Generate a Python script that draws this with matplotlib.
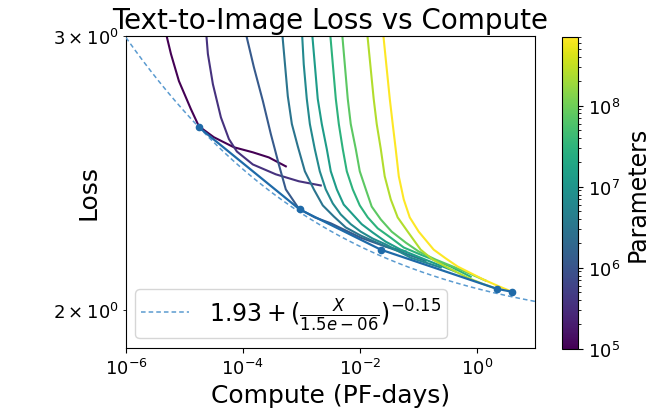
import numpy as np
import matplotlib
matplotlib.use('Agg')
import matplotlib.pyplot as plt
from matplotlib.colors import LogNorm
from matplotlib.cm import ScalarMappable

# model sizes (colour) for each learning curve
params = [1.0e5, 3.5e5, 1.2e6, 3.0e6, 6.5e6, 1.3e7, 3.0e7, 7.5e7, 2.5e8, 7.0e8]

# learning curves: compute (PF-days) and loss
c1_x = [4.65e-6, 5.88e-6, 8.05e-6, 1.29e-5, 1.77e-5, 3.19e-5, 7.01e-5, 1.48e-4, 2.78e-4, 5.43e-4]
c1_loss = [3.03, 2.921, 2.806, 2.692, 2.624, 2.582, 2.544, 2.525, 2.506, 2.473]
c2_x = [2.33e-5, 2.52e-5, 3.07e-5, 4.21e-5, 5.77e-5, 7.89e-5, 1.48e-4, 3.66e-4, 9.06e-4, 2.15e-3]
c2_loss = [3.03, 2.921, 2.793, 2.659, 2.575, 2.528, 2.480, 2.444, 2.419, 2.404]
c3_x = [1.08e-4, 1.54e-4, 2.20e-4, 3.01e-4, 3.52e-4, 4.12e-4, 5.43e-4, 9.06e-4, 1.70e-3,
        3.19e-3, 1.04e-2, 2.78e-2, 6.11e-2]
c3_loss = [3.03, 2.865, 2.724, 2.594, 2.537, 2.480, 2.390, 2.323, 2.293,
           2.273, 2.225, 2.196, 2.180]
c4_x = [4.65e-4, 5.87e-4, 6.89e-4, 8.71e-4, 1.15e-3, 1.64e-3, 2.33e-3, 3.60e-3, 5.77e-3,
        1.04e-2, 2.78e-2, 0.134]
c4_loss = [3.03, 2.744, 2.633, 2.547, 2.455, 2.390, 2.334, 2.296, 2.259,
           2.232, 2.196, 2.150]
c5_x = [1.02e-3, 1.10e-3, 1.24e-3, 1.40e-3, 1.70e-3, 2.07e-3, 2.62e-3, 3.45e-3, 4.73e-3,
        7.01e-3, 1.04e-2, 1.67e-2, 2.78e-2, 7.45e-2, 0.243]
c5_loss = [3.03, 2.877, 2.733, 2.633, 2.537, 2.455, 2.390, 2.341, 2.303,
           2.270, 2.245, 2.222, 2.203, 2.160, 2.129]
c6_x = [1.51e-3, 1.91e-3, 2.24e-3, 2.73e-3, 3.19e-3, 4.05e-3, 5.31e-3, 7.59e-3, 1.08e-2,
        1.67e-2, 2.78e-2, 5.02e-2, 0.164, 0.438]
c6_loss = [3.03, 2.733, 2.633, 2.537, 2.455, 2.390, 2.337, 2.303, 2.270,
           2.242, 2.212, 2.186, 2.147, 2.116]
c7_x = [3.07e-3, 3.89e-3, 4.38e-3, 5.12e-3, 6.00e-3, 7.59e-3, 1.00e-2, 1.37e-2, 2.03e-2,
        3.39e-2, 5.65e-2, 0.110, 0.360, 0.789]
c7_loss = [3.03, 2.733, 2.633, 2.537, 2.455, 2.390, 2.334, 2.293, 2.256,
           2.225, 2.193, 2.170, 2.132, 2.100]
c8_x = [4.92e-3, 6.23e-3, 7.01e-3, 8.55e-3, 1.00e-2, 1.27e-2, 1.60e-2, 2.29e-2, 3.52e-2,
        6.11e-2, 0.102, 0.199, 0.533, 1.43]
c8_loss = [3.03, 2.733, 2.633, 2.537, 2.455, 2.390, 2.330, 2.286, 2.245,
           2.209, 2.180, 2.154, 2.122, 2.088]
c9_x = [1.32e-2, 1.73e-2, 1.95e-2, 2.29e-2, 2.67e-2, 3.39e-2, 4.45e-2, 6.62e-2, 0.110,
        0.177, 0.295, 0.701, 1.27, 2.2]
c9_loss = [3.03, 2.733, 2.633, 2.537, 2.437, 2.355, 2.293, 2.245, 2.186,
           2.154, 2.132, 2.097, 2.078, 2.063]
c10_x = [2.47e-2, 3.26e-2, 3.66e-2, 4.12e-2, 4.65e-2, 5.65e-2, 7.16e-2, 0.102, 0.184,
         0.295, 0.473, 1.32, 2.29, 4.0]
c10_loss = [3.03, 2.733, 2.633, 2.537, 2.437, 2.355, 2.293, 2.245, 2.186,
            2.158, 2.132, 2.091, 2.072, 2.054]

curves_x = [c1_x, c2_x, c3_x, c4_x, c5_x, c6_x, c7_x, c8_x, c9_x, c10_x]
curves_loss = [c1_loss, c2_loss, c3_loss, c4_loss, c5_loss, c6_loss, c7_loss, c8_loss, c9_loss, c10_loss]

# compute frontier points
front_x = [1.77e-5, 9.4e-4, 2.29e-2, 2.2, 4.0]
front_loss = [2.62, 2.32, 2.186, 2.063, 2.054]

# power law fit  L = a + (C / c0)^alpha
fit_a = 1.93
fit_c0 = 1.5e-6
fit_alpha = -0.15

fig = plt.figure(figsize=(6.51, 4.10), dpi=100)
ax = fig.add_axes([0.1935, 0.149, 0.6285, 0.761])

norm = LogNorm(vmin=1e5, vmax=7e8)
cmap = plt.get_cmap('viridis')

for n, xs, ls in zip(params, curves_x, curves_loss):
    ax.plot(xs, ls, color=cmap(norm(n)), lw=1.5)

ax.plot(front_x, front_loss, 'o-', color='#1f6aa8', lw=1.6, ms=4.5, zorder=5)

cc = np.logspace(-6, 1, 300)
ax.plot(cc, fit_a + (cc / fit_c0) ** fit_alpha, color='#5b9bd0', lw=1.1,
        ls=(0, (3, 2)), label=r'$1.93 + (\frac{X}{1.5e-06})^{-0.15}$', zorder=4)

ax.set_xscale('log')
ax.set_yscale('log')
ax.set_xlim(1e-6, 10)
ax.set_ylim(1.89, 3.0)
ax.set_xticks([1e-6, 1e-4, 1e-2, 1e0])
ax.xaxis.set_minor_locator(matplotlib.ticker.NullLocator())
ax.tick_params(labelsize=13)
ax.tick_params(axis='y', which='minor', labelsize=13)

ax.set_xlabel('Compute (PF-days)', fontsize=18)
ax.set_ylabel('Loss', fontsize=18)
ax.yaxis.set_label_coords(-0.063, 0.5)
ax.set_title('Text-to-Image Loss vs Compute', fontsize=20)
ax.legend(loc='lower left', fontsize=17, handlelength=2.0, handletextpad=0.85,
          borderpad=0.25, borderaxespad=0.4)

cax = fig.add_axes([0.863, 0.147, 0.025, 0.76])
sm = ScalarMappable(norm=norm, cmap=cmap)
cb = fig.colorbar(sm, cax=cax)
cb.ax.tick_params(labelsize=13)
cb.set_label('Parameters', fontsize=17)

plt.savefig('out.png', dpi=100)
